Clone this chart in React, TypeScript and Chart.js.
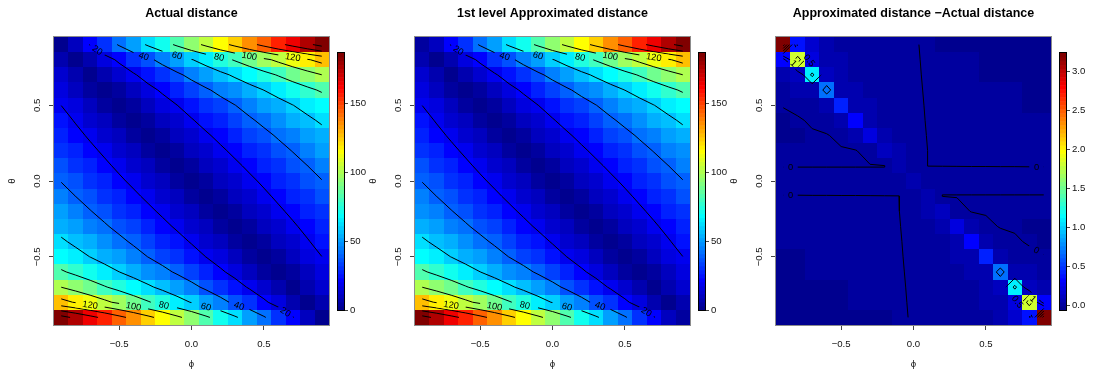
import React, { useEffect, useRef } from "react";
import { Chart, registerables } from "chart.js";

Chart.register(...registerables);

const FONT = "'Liberation Sans', Arial, Helvetica, sans-serif";
const TEXT = "#111";
const AXIS = "#444";
const BOX = "#8c8c8c";

// ---------------- data ----------------
const PHI = [-0.9, -0.8, -0.7, -0.6, -0.5, -0.4, -0.3, -0.2, -0.1, 0, 0.1, 0.2, 0.3, 0.4, 0.5, 0.6, 0.7, 0.8, 0.9];
const THETA = [0.9, 0.8, 0.7, 0.6, 0.5, 0.4, 0.3, 0.2, 0.1, 0, -0.1, -0.2, -0.3, -0.4, -0.5, -0.6, -0.7, -0.8, -0.9];

// rows follow THETA (top to bottom), columns follow PHI
const ACTUAL = [
  [0, 10.4, 20.7, 31.1, 41.4, 51.8, 62.1, 72.5, 82.8, 93.2, 103.5, 113.9, 124.2, 134.6, 144.9, 155.3, 165.6, 176.0, 186.3],
  [7.4, 0, 7.4, 14.8, 22.2, 29.6, 37.0, 44.4, 51.8, 59.2, 66.6, 74.0, 81.4, 88.8, 96.2, 103.6, 111.0, 118.4, 125.8],
  [12.5, 6.2, 0, 6.2, 12.5, 18.7, 25.0, 31.2, 37.4, 43.7, 49.9, 56.2, 62.4, 68.6, 74.9, 81.1, 87.4, 93.6, 99.8],
  [16.4, 10.9, 5.5, 0, 5.5, 10.9, 16.4, 21.8, 27.3, 32.8, 38.2, 43.7, 49.1, 54.6, 60.1, 65.5, 71.0, 76.4, 81.9],
  [19.9, 14.9, 10.0, 5.0, 0, 5.0, 10.0, 14.9, 19.9, 24.9, 29.9, 34.9, 39.8, 44.8, 49.8, 54.8, 59.8, 64.7, 69.7],
  [23.9, 19.1, 14.3, 9.5, 4.8, 0, 4.8, 9.5, 14.3, 19.1, 23.9, 28.6, 33.4, 38.2, 42.9, 47.7, 52.5, 57.2, 62.0],
  [27.6, 23.0, 18.4, 13.8, 9.2, 4.6, 0, 4.6, 9.2, 13.8, 18.4, 23.0, 27.6, 32.2, 36.8, 41.4, 46.0, 50.6, 55.2],
  [31.5, 27.0, 22.5, 18.0, 13.5, 9.0, 4.5, 0, 4.5, 9.0, 13.5, 18.0, 22.5, 27.0, 31.5, 36.0, 40.5, 45.0, 49.5],
  [35.4, 31.0, 26.6, 22.2, 17.7, 13.3, 8.9, 4.4, 0, 4.4, 8.9, 13.3, 17.7, 22.2, 26.6, 31.0, 35.4, 39.9, 44.3],
  [39.6, 35.2, 30.8, 26.4, 22.0, 17.6, 13.2, 8.8, 4.4, 0, 4.4, 8.8, 13.2, 17.6, 22.0, 26.4, 30.8, 35.2, 39.6],
  [44.3, 39.9, 35.4, 31.0, 26.6, 22.2, 17.7, 13.3, 8.9, 4.4, 0, 4.4, 8.9, 13.3, 17.7, 22.2, 26.6, 31.0, 35.4],
  [49.5, 45.0, 40.5, 36.0, 31.5, 27.0, 22.5, 18.0, 13.5, 9.0, 4.5, 0, 4.5, 9.0, 13.5, 18.0, 22.5, 27.0, 31.5],
  [55.2, 50.6, 46.0, 41.4, 36.8, 32.2, 27.6, 23.0, 18.4, 13.8, 9.2, 4.6, 0, 4.6, 9.2, 13.8, 18.4, 23.0, 27.6],
  [62.0, 57.2, 52.5, 47.7, 42.9, 38.2, 33.4, 28.6, 23.9, 19.1, 14.3, 9.5, 4.8, 0, 4.8, 9.5, 14.3, 19.1, 23.9],
  [69.7, 64.7, 59.8, 54.8, 49.8, 44.8, 39.8, 34.9, 29.9, 24.9, 19.9, 14.9, 10.0, 5.0, 0, 5.0, 10.0, 14.9, 19.9],
  [81.9, 76.4, 71.0, 65.5, 60.1, 54.6, 49.1, 43.7, 38.2, 32.8, 27.3, 21.8, 16.4, 10.9, 5.5, 0, 5.5, 10.9, 16.4],
  [99.8, 93.6, 87.4, 81.1, 74.9, 68.6, 62.4, 56.2, 49.9, 43.7, 37.4, 31.2, 25.0, 18.7, 12.5, 6.2, 0, 6.2, 12.5],
  [125.8, 118.4, 111.0, 103.6, 96.2, 88.8, 81.4, 74.0, 66.6, 59.2, 51.8, 44.4, 37.0, 29.6, 22.2, 14.8, 7.4, 0, 7.4],
  [186.3, 176.0, 165.6, 155.3, 144.9, 134.6, 124.2, 113.9, 103.5, 93.2, 82.8, 72.5, 62.1, 51.8, 41.4, 31.1, 20.7, 10.4, 0],
];

// approximated minus actual
const DIFF = [
  [3.24, 0.4, 0.15, 0.06, 0.03, 0.02, 0.015, 0.012, 0.009, 0.006, -0.01, -0.015, -0.02, -0.026, -0.032, -0.038, -0.045, -0.055, -0.064],
  [0.3, 1.82, 0.22, 0.08, 0.04, 0.025, 0.02, 0.015, 0.012, 0.008, -0.0094, -0.01, -0.011, -0.012, -0.015, -0.02, -0.026, -0.032, -0.04],
  [0.06, 0.1, 1.12, 0.12, 0.06, 0.035, 0.025, 0.02, 0.015, 0.01, -0.0085, -0.009, -0.0095, -0.01, -0.013, -0.016, -0.02, -0.024, -0.028],
  [0.03, 0.04, 0.06, 0.66, 0.09, 0.05, 0.03, 0.022, 0.016, 0.012, -0.007, -0.0075, -0.008, -0.0085, -0.009, -0.01, -0.011, -0.014, -0.018],
  [0.004, 0.024, 0.035, 0.05, 0.42, 0.08, 0.04, 0.025, 0.018, 0.014, -0.0054, -0.006, -0.0065, -0.007, -0.0075, -0.008, -0.009, -0.013, -0.016],
  [-0.02, -0.01, 0.012, 0.03, 0.045, 0.34, 0.07, 0.035, 0.02, 0.016, -0.004, -0.0045, -0.005, -0.0055, -0.006, -0.0065, -0.007, -0.008, -0.009],
  [-0.015, -0.013, -0.01, -0.004, 0.016, 0.04, 0.22, 0.06, 0.03, 0.018, -0.0022, -0.003, -0.0035, -0.004, -0.0045, -0.005, -0.0055, -0.006, -0.007],
  [-0.01, -0.01, -0.009, -0.008, -0.006, -0.002, 0.018, 0.14, 0.05, 0.02, -0.0007, -0.0012, -0.0015, -0.002, -0.0025, -0.003, -0.003, -0.0035, -0.004],
  [-0.002, -0.002, -0.002, -0.002, -0.002, -0.002, -0.002, -0.002, 0.08, 0.022, -0.0004, -0.0006, -0.0008, -0.001, -0.001, -0.0012, -0.0012, -0.0015, -0.0015],
  [0.022, 0.022, 0.022, 0.022, 0.022, 0.022, 0.022, 0.022, 0.022, 0.05, 0.022, 0.022, 0.022, 0.022, 0.022, 0.022, 0.022, 0.022, 0.022],
  [-0.0015, -0.0015, -0.0012, -0.0012, -0.001, -0.001, -0.0008, -0.0006, -0.0004, 0.022, 0.08, -0.002, -0.002, -0.002, -0.002, -0.002, -0.002, -0.002, -0.002],
  [-0.004, -0.0035, -0.003, -0.003, -0.0025, -0.002, -0.0015, -0.0012, -0.0007, 0.02, 0.05, 0.14, 0.018, -0.002, -0.006, -0.008, -0.009, -0.01, -0.01],
  [-0.007, -0.006, -0.0055, -0.005, -0.0045, -0.004, -0.0035, -0.003, -0.0022, 0.018, 0.03, 0.06, 0.22, 0.04, 0.016, -0.004, -0.01, -0.013, -0.015],
  [-0.009, -0.008, -0.007, -0.0065, -0.006, -0.0055, -0.005, -0.0045, -0.004, 0.016, 0.02, 0.035, 0.07, 0.34, 0.045, 0.03, 0.012, -0.01, -0.02],
  [-0.016, -0.013, -0.009, -0.008, -0.0075, -0.007, -0.0065, -0.006, -0.0054, 0.014, 0.018, 0.025, 0.04, 0.08, 0.42, 0.05, 0.035, 0.024, 0.004],
  [-0.018, -0.014, -0.011, -0.01, -0.009, -0.0085, -0.008, -0.0075, -0.007, 0.012, 0.016, 0.022, 0.03, 0.05, 0.09, 0.66, 0.06, 0.04, 0.03],
  [-0.028, -0.024, -0.02, -0.016, -0.013, -0.01, -0.0095, -0.009, -0.0085, 0.01, 0.015, 0.02, 0.025, 0.035, 0.06, 0.12, 1.12, 0.1, 0.06],
  [-0.04, -0.032, -0.026, -0.02, -0.015, -0.012, -0.011, -0.01, -0.0094, 0.008, 0.012, 0.015, 0.02, 0.025, 0.04, 0.08, 0.22, 1.82, 0.3],
  [-0.064, -0.055, -0.045, -0.038, -0.032, -0.026, -0.02, -0.015, -0.01, 0.006, 0.009, 0.012, 0.015, 0.02, 0.03, 0.06, 0.15, 0.4, 3.24],
];

// approximated distance = actual + difference
const APPROX = ACTUAL.map((row, r) => row.map((v, c) => v + DIFF[r][c]));

const X_TICKS = [-0.5, 0, 0.5];
const X_TICK_LABELS = ["\u22120.5", "0.0", "0.5"];
const Y_TICKS = [-0.5, 0, 0.5];
const Y_TICK_LABELS = ["\u22120.5", "0.0", "0.5"];
const LEVELS_DIST = [20, 40, 60, 80, 100, 120, 140, 160, 180];
const LEVELS_DIFF = [0, 0.5, 1, 1.5, 2, 2.5, 3];
const CB_TICKS_DIST = [0, 50, 100, 150];
const CB_LABELS_DIST = ["0", "50", "100", "150"];
const CB_TICKS_DIFF = [0, 0.5, 1, 1.5, 2, 2.5, 3];
const CB_LABELS_DIFF = ["0.0", "0.5", "1.0", "1.5", "2.0", "2.5", "3.0"];
const TITLES = ["Actual distance", "1st level Approximated distance", "Approximated distance \u2212Actual distance"];
const X_LABEL = "\u03d5";
const Y_LABEL = "\u03b8";

// tim.colors(64) palette
const TIM64 = [
  "#00008F", "#00009F", "#0000AF", "#0000BF", "#0000CF", "#0000DF", "#0000EF", "#0000FF",
  "#0010FF", "#0020FF", "#0030FF", "#0040FF", "#0050FF", "#0060FF", "#0070FF", "#0080FF",
  "#008FFF", "#009FFF", "#00AFFF", "#00BFFF", "#00CFFF", "#00DFFF", "#00EFFF", "#00FFFF",
  "#10FFEF", "#20FFDF", "#30FFCF", "#40FFBF", "#50FFAF", "#60FF9F", "#70FF8F", "#80FF80",
  "#8FFF70", "#9FFF60", "#AFFF50", "#BFFF40", "#CFFF30", "#DFFF20", "#EFFF10", "#FFFF00",
  "#FFEF00", "#FFDF00", "#FFCF00", "#FFBF00", "#FFAF00", "#FF9F00", "#FF8F00", "#FF8000",
  "#FF7000", "#FF6000", "#FF5000", "#FF4000", "#FF3000", "#FF2000", "#FF1000", "#FF0000",
  "#EF0000", "#DF0000", "#CF0000", "#BF0000", "#AF0000", "#9F0000", "#8F0000", "#800000",
];

const PANELS = [
  { title: TITLES[0], grid: ACTUAL, levels: LEVELS_DIST, cbTicks: CB_TICKS_DIST, cbLabels: CB_LABELS_DIST, orient: "theta" },
  { title: TITLES[1], grid: APPROX, levels: LEVELS_DIST, cbTicks: CB_TICKS_DIST, cbLabels: CB_LABELS_DIST, orient: "theta" },
  { title: TITLES[2], grid: DIFF, levels: LEVELS_DIFF, cbTicks: CB_TICKS_DIFF, cbLabels: CB_LABELS_DIFF, orient: "phi" },
];

// ---------------- layout ----------------
const W = 1097;
const H = 373;
const PLOT_LEFT = [54, 415, 776];
const Y_AXIS_W = 54;
const PANEL_CANVAS_W = 335;
const X_AXIS_H = 48;
const CB_GAP = 284;
const CB_CANVAS_W = 47;
const CB_CANVAS_TOP = 30;
const CB_CANVAS_H = 300;

const LABEL_FONT = 9.3;
const TICK_FONT = 9.6;
const LABEL_SEARCH = 60; // px of contour (from its start) searched for a label spot

type Pt = [number, number];

// ---------------- contouring (marching squares) ----------------
function contourLines(z: number[][], xs: number[], ys: number[], level: number): Pt[][] {
  const nr = ys.length, nc = xs.length;
  const pts = new Map<string, Pt>();
  const segs: [string, string][] = [];
  const above = (r: number, c: number) => z[r][c] >= level;
  const ep = (r1: number, c1: number, r2: number, c2: number) => {
    const key = r1 + "," + c1 + "," + r2 + "," + c2;
    if (!pts.has(key)) {
      const z1 = z[r1][c1], z2 = z[r2][c2];
      const t = (level - z1) / (z2 - z1);
      pts.set(key, [xs[c1] + (xs[c2] - xs[c1]) * t, ys[r1] + (ys[r2] - ys[r1]) * t]);
    }
    return key;
  };
  for (let r = 0; r < nr - 1; r++) {
    for (let c = 0; c < nc - 1; c++) {
      const tl = above(r, c), tr = above(r, c + 1), br = above(r + 1, c + 1), bl = above(r + 1, c);
      const e: string[] = [];
      if (tl !== tr) e.push(ep(r, c, r, c + 1));
      if (tr !== br) e.push(ep(r, c + 1, r + 1, c + 1));
      if (br !== bl) e.push(ep(r + 1, c, r + 1, c + 1));
      if (bl !== tl) e.push(ep(r, c, r + 1, c));
      if (e.length === 2) segs.push([e[0], e[1]]);
      else if (e.length === 4) {
        const center = (z[r][c] + z[r][c + 1] + z[r + 1][c + 1] + z[r + 1][c]) / 4 >= level;
        const [top, right, bottom, left] = e;
        if (tl === center) {
          segs.push([top, right]);
          segs.push([bottom, left]);
        } else {
          segs.push([left, top]);
          segs.push([right, bottom]);
        }
      }
    }
  }
  const adj = new Map<string, number[]>();
  segs.forEach((s, i) => {
    for (const k of s) {
      if (!adj.has(k)) adj.set(k, []);
      adj.get(k)!.push(i);
    }
  });
  const used = new Array(segs.length).fill(false);
  const lines: Pt[][] = [];
  const walk = (si: number, k: string) => {
    const line: Pt[] = [pts.get(k)!];
    let cur = si;
    let key = k;
    while (cur >= 0 && !used[cur]) {
      used[cur] = true;
      const [a, b] = segs[cur];
      key = a === key ? b : a;
      line.push(pts.get(key)!);
      const nxt = (adj.get(key) || []).find((s) => !used[s]);
      cur = nxt === undefined ? -1 : nxt;
    }
    return line;
  };
  for (const [k, list] of adj) if (list.length === 1 && !used[list[0]]) lines.push(walk(list[0], k));
  for (let i = 0; i < segs.length; i++) if (!used[i]) lines.push(walk(i, segs[i][0]));
  return lines;
}

function orientLine(line: Pt[], mode: string): Pt[] {
  if (line.length < 2) return line;
  const a = line[0], b = line[line.length - 1];
  if (Math.abs(a[0] - b[0]) < 1e-9 && Math.abs(a[1] - b[1]) < 1e-9) return line;
  const score = (p: Pt) =>
    mode === "theta" ? Math.abs(p[1]) * 100 + Math.abs(p[0]) * 0.01 : Math.abs(p[0]) - p[1];
  return score(b) > score(a) ? line.slice().reverse() : line;
}

function polysIntersect(a: Pt[], b: Pt[]): boolean {
  for (const poly of [a, b]) {
    for (let i = 0; i < poly.length; i++) {
      const p1 = poly[i], p2 = poly[(i + 1) % poly.length];
      const nx = p2[1] - p1[1], ny = p1[0] - p2[0];
      let minA = Infinity, maxA = -Infinity, minB = Infinity, maxB = -Infinity;
      for (const q of a) {
        const v = q[0] * nx + q[1] * ny;
        minA = Math.min(minA, v);
        maxA = Math.max(maxA, v);
      }
      for (const q of b) {
        const v = q[0] * nx + q[1] * ny;
        minB = Math.min(minB, v);
        maxB = Math.max(maxB, v);
      }
      if (maxA < minB || maxB < minA) return false;
    }
  }
  return true;
}

type Label = { cx: number; cy: number; ang: number; poly: Pt[]; text: string };

// label placement following R's "flattest" contour-label method
function placeLabels(chart: any, lines: { text: string; pts: Pt[] }[]): Label[] {
  const { ctx, chartArea: A, scales } = chart;
  const xs = scales.x, ys = scales.y;
  ctx.save();
  ctx.font = `${LABEL_FONT}px ${FONT}`;
  const placed: Label[] = [];
  for (const ln of lines) {
    const D: Pt[] = [];
    const P: Pt[] = [];
    for (const d of ln.pts) {
      const p: Pt = [xs.getPixelForValue(d[0]), ys.getPixelForValue(d[1])];
      const q = P[P.length - 1];
      if (!q || Math.hypot(p[0] - q[0], p[1] - q[1]) > 0.05) {
        P.push(p);
        D.push(d);
      }
    }
    const n = P.length;
    if (n <= 3) continue;
    const arc = [0];
    for (let i = 1; i < n; i++) arc.push(arc[i - 1] + Math.hypot(P[i][0] - P[i - 1][0], P[i][1] - P[i - 1][1]));
    // first crossing of a grid row after the start: the first band of the line
    let bandEnd = n - 1;
    for (let k = 1; k < n; k++) {
      if (THETA.includes(D[k][1])) {
        bandEnd = k;
        break;
      }
    }
    const tw = ctx.measureText(ln.text).width;
    const LD = tw * 1.6;

    const search = (jLimit: number, iLimit: number, arcLimit: number): Label | null => {
      let best: Label | null = null;
      let lowest = Infinity;
      for (let i = 0; i < iLimit && arc[i] <= arcLimit; i++) {
        let dsum = 0, avg = 0, sq = 0, cnt = 0, j = i + 1;
        while (j <= jLimit && dsum < LD) {
          const dx = P[j][0] - P[i][0], dy = P[j][1] - P[i][1];
          const g = dx === 0 ? 1.5708 : Math.atan(dy / dx);
          dsum = Math.hypot(dx, dy);
          avg += g;
          sq += g * g;
          cnt++;
          j++;
        }
        if (dsum < LD) break;
        const jEnd = j - 1;
        avg /= cnt;
        sq /= cnt;
        const variance = sq - avg * avg;
        if (!(variance < lowest - 1e-9)) continue;
        const Q = P[jEnd];
        const dx = Q[0] - P[i][0], dy = Q[1] - P[i][1];
        const L = Math.hypot(dx, dy);
        let ang = Math.atan2(dy, dx);
        if (ang > Math.PI / 2) ang -= Math.PI;
        else if (ang < -Math.PI / 2) ang += Math.PI;
        const cx = (P[i][0] + Q[0]) / 2, cy = (P[i][1] + Q[1]) / 2;
        const hl = L / 2, hh = LABEL_FONT * 0.5;
        const ca = Math.cos(ang), sa = Math.sin(ang);
        const poly: Pt[] = [[-hl, -hh], [hl, -hh], [hl, hh], [-hl, hh]].map(
          ([u, v]) => [cx + u * ca - v * sa, cy + u * sa + v * ca] as Pt
        );
        if (!poly.every(([px, py]) => px > A.left && px < A.right && py > A.top && py < A.bottom)) continue;
        if (placed.some((p) => polysIntersect(p.poly, poly))) continue;
        lowest = variance;
        best = { cx, cy, ang, poly, text: ln.text };
      }
      return best;
    };

    let best = search(Math.min(bandEnd, n - 2), bandEnd, Infinity);
    if (!best) best = search(n - 2, n, LABEL_SEARCH);
    if (best) placed.push(best);
  }
  ctx.restore();
  return placed;
}

function gridRange(grid: number[][]) {
  let zmin = Infinity, zmax = -Infinity;
  for (const row of grid) for (const v of row) {
    if (v < zmin) zmin = v;
    if (v > zmax) zmax = v;
  }
  return { zmin, zmax };
}

function makePanelChart(canvas: HTMLCanvasElement, p: any) {
  const { grid, levels, orient, title } = p;
  const { zmin, zmax } = gridRange(grid);
  const halfX = (PHI[1] - PHI[0]) / 2;
  const halfY = (THETA[0] - THETA[1]) / 2;
  const lines: { text: string; pts: Pt[] }[] = [];
  for (const lv of levels) {
    for (const ln of contourLines(grid, PHI, THETA, lv)) {
      if (ln.length >= 2) lines.push({ text: String(lv), pts: orientLine(ln, orient) });
    }
  }
  const colorOf = (v: number) =>
    TIM64[Math.max(0, Math.min(63, Math.floor(((v - zmin) / (zmax - zmin)) * 64)))];
  let placed: Label[] = [];

  const plugin = {
    id: "heatmapContour",
    beforeDatasetsDraw(chart: any) {
      const { ctx, chartArea: A, scales } = chart;
      const xs = scales.x, ys = scales.y;
      ctx.save();
      for (let r = 0; r < THETA.length; r++) {
        for (let c = 0; c < PHI.length; c++) {
          const x0 = Math.round(xs.getPixelForValue(PHI[c] - halfX));
          const x1 = Math.round(xs.getPixelForValue(PHI[c] + halfX));
          const y0 = Math.round(ys.getPixelForValue(THETA[r] + halfY));
          const y1 = Math.round(ys.getPixelForValue(THETA[r] - halfY));
          ctx.fillStyle = colorOf(grid[r][c]);
          ctx.fillRect(x0, y0, x1 - x0, y1 - y0);
        }
      }
      ctx.restore();
      placed = placeLabels(chart, lines);
      ctx.save();
      ctx.beginPath();
      ctx.rect(A.left, A.top, A.right - A.left, A.bottom - A.top);
      for (const lb of placed) {
        ctx.moveTo(lb.poly[0][0], lb.poly[0][1]);
        for (let k = 1; k < 4; k++) ctx.lineTo(lb.poly[k][0], lb.poly[k][1]);
        ctx.closePath();
      }
      ctx.clip("evenodd");
    },
    afterDatasetsDraw(chart: any) {
      const { ctx, chartArea: A, scales } = chart;
      const ys = scales.y;
      ctx.restore();
      // contour labels
      ctx.save();
      ctx.font = `${LABEL_FONT}px ${FONT}`;
      ctx.fillStyle = "#000";
      ctx.textAlign = "center";
      ctx.textBaseline = "middle";
      for (const lb of placed) {
        ctx.save();
        ctx.translate(lb.cx, lb.cy);
        ctx.rotate(lb.ang);
        ctx.fillText(lb.text, 0, 0.5);
        ctx.restore();
      }
      ctx.restore();
      // plot box
      ctx.save();
      ctx.strokeStyle = BOX;
      ctx.lineWidth = 1;
      ctx.strokeRect(A.left - 0.5, A.top - 0.5, A.right - A.left + 1, A.bottom - A.top + 1);
      // rotated y tick labels
      ctx.font = `${TICK_FONT}px ${FONT}`;
      ctx.fillStyle = TEXT;
      ctx.textAlign = "center";
      ctx.textBaseline = "middle";
      ys.ticks.forEach((t: any, i: number) => {
        const py = ys.getPixelForValue(t.value);
        ctx.save();
        ctx.translate(A.left - 17, py);
        ctx.rotate(-Math.PI / 2);
        ctx.fillText(Y_TICK_LABELS[i], 0, 0);
        ctx.restore();
      });
      ctx.restore();
    },
  };

  return new Chart(canvas, {
    type: "scatter",
    data: {
      datasets: lines.map((ln) => ({
        data: ln.pts.map(([x, y]) => ({ x, y })),
        showLine: true,
        borderColor: "#000",
        borderWidth: 1,
        pointRadius: 0,
        pointHoverRadius: 0,
        fill: false,
        tension: 0,
      })),
    },
    options: {
      responsive: false,
      animation: false,
      events: [],
      layout: { padding: { left: 0, right: PANEL_CANVAS_W - Y_AXIS_W - 275, top: 0, bottom: 0 } },
      plugins: {
        legend: { display: false },
        tooltip: { enabled: false },
        title: {
          display: true,
          text: title,
          fullSize: false,
          color: "#000",
          font: { family: FONT, size: 12.5, weight: "bold" },
          padding: { top: 6, bottom: 16 },
        },
      },
      scales: {
        x: {
          type: "linear",
          min: PHI[0] - halfX,
          max: PHI[PHI.length - 1] + halfX,
          afterBuildTicks: (s: any) => {
            s.ticks = X_TICKS.map((v) => ({ value: v }));
          },
          afterFit: (s: any) => {
            s.height = X_AXIS_H;
          },
          ticks: {
            autoSkip: false,
            maxRotation: 0,
            minRotation: 0,
            padding: 8.5,
            color: TEXT,
            font: { family: FONT, size: TICK_FONT },
            callback: (_v: any, i: number) => X_TICK_LABELS[i],
          },
          grid: { display: true, drawOnChartArea: false, drawTicks: true, tickLength: 5, color: AXIS, lineWidth: 1 },
          border: { display: false },
          title: { display: true, text: X_LABEL, color: TEXT, font: { family: FONT, size: TICK_FONT }, padding: { top: 0, bottom: 3.2 } },
        },
        y: {
          type: "linear",
          min: THETA[THETA.length - 1] - halfY,
          max: THETA[0] + halfY,
          afterBuildTicks: (s: any) => {
            s.ticks = Y_TICKS.map((v) => ({ value: v }));
          },
          afterFit: (s: any) => {
            s.width = Y_AXIS_W;
          },
          ticks: { display: false },
          grid: { display: true, drawOnChartArea: false, drawTicks: true, tickLength: 5, color: AXIS, lineWidth: 1 },
          border: { display: false },
          title: { display: true, text: Y_LABEL, color: TEXT, font: { family: FONT, size: TICK_FONT }, padding: { top: 6.9, bottom: 0 } },
        },
      },
    } as any,
    plugins: [plugin],
  });
}

function makeColorbarChart(canvas: HTMLCanvasElement, p: any) {
  const { zmin, zmax } = gridRange(p.grid);
  const plugin = {
    id: "colorbar",
    beforeDatasetsDraw(chart: any) {
      const { ctx, chartArea: A, scales } = chart;
      const ys = scales.y;
      ctx.save();
      for (let k = 0; k < 64; k++) {
        const ya = ys.getPixelForValue(zmin + ((zmax - zmin) * k) / 64);
        const yb = ys.getPixelForValue(zmin + ((zmax - zmin) * (k + 1)) / 64);
        ctx.fillStyle = TIM64[k];
        ctx.fillRect(A.left, yb, A.right - A.left, ya - yb + 0.5);
      }
      ctx.strokeStyle = "#000";
      ctx.lineWidth = 1;
      ctx.strokeRect(A.left - 0.5, A.top - 0.5, A.right - A.left + 1, A.bottom - A.top + 1);
      ctx.restore();
    },
  };
  return new Chart(canvas, {
    type: "scatter",
    data: { datasets: [] },
    options: {
      responsive: false,
      animation: false,
      events: [],
      layout: { padding: { left: 3, right: 0, top: 53 - CB_CANVAS_TOP, bottom: CB_CANVAS_TOP + CB_CANVAS_H - 310 } },
      plugins: { legend: { display: false }, tooltip: { enabled: false }, title: { display: false } },
      scales: {
        x: { type: "linear", display: false, min: 0, max: 1 },
        y: {
          type: "linear",
          position: "right",
          min: zmin,
          max: zmax,
          afterBuildTicks: (s: any) => {
            s.ticks = p.cbTicks.map((v: number) => ({ value: v }));
          },
          afterFit: (s: any) => {
            s.width = CB_CANVAS_W - 3 - 6;
          },
          ticks: {
            autoSkip: false,
            padding: 2,
            color: TEXT,
            font: { family: FONT, size: TICK_FONT },
            callback: (_v: any, i: number) => p.cbLabels[i],
          },
          grid: { display: true, drawOnChartArea: false, drawTicks: true, tickLength: 4, color: AXIS, lineWidth: 1 },
          border: { display: false },
        },
      },
    } as any,
    plugins: [plugin],
  });
}

export default function App() {
  const refs = useRef<(HTMLCanvasElement | null)[]>([]);
  useEffect(() => {
    const charts: Chart[] = [];
    PANELS.forEach((p, i) => {
      const a = refs.current[2 * i];
      const b = refs.current[2 * i + 1];
      if (a) charts.push(makePanelChart(a, p));
      if (b) charts.push(makeColorbarChart(b, p));
    });
    return () => charts.forEach((c) => c.destroy());
  }, []);
  return (
    <div style={{ position: "fixed", left: 0, top: 0, width: W, height: H, overflow: "hidden", background: "#fff" }}>
      {PANELS.map((_p, i) => (
        <React.Fragment key={i}>
          <canvas
            ref={(el) => {
              refs.current[2 * i] = el;
            }}
            width={PANEL_CANVAS_W}
            height={H}
            style={{ position: "absolute", left: PLOT_LEFT[i] - Y_AXIS_W, top: 0, width: PANEL_CANVAS_W, height: H }}
          />
          <canvas
            ref={(el) => {
              refs.current[2 * i + 1] = el;
            }}
            width={CB_CANVAS_W}
            height={CB_CANVAS_H}
            style={{ position: "absolute", left: PLOT_LEFT[i] + CB_GAP - 3, top: CB_CANVAS_TOP, width: CB_CANVAS_W, height: CB_CANVAS_H }}
          />
        </React.Fragment>
      ))}
    </div>
  );
}
